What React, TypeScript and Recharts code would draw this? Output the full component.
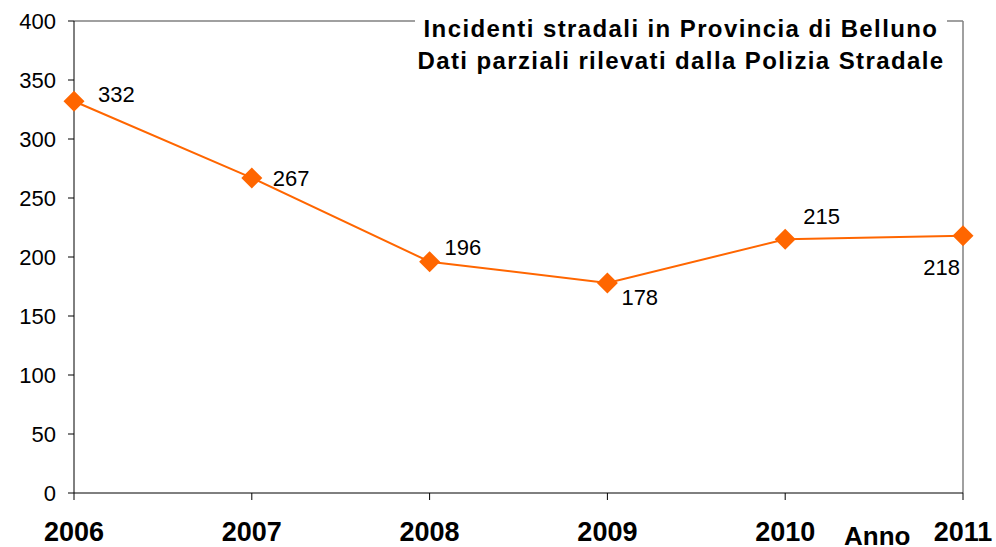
import React from 'react';
import { LabelList, Line, LineChart, ReferenceLine, XAxis, YAxis } from 'recharts';

const years = [2006, 2007, 2008, 2009, 2010, 2011];
const incidents = [332, 267, 196, 178, 215, 218];
const yTicks = [0, 50, 100, 150, 200, 250, 300, 350, 400];

const chartData = years.map((year, i) => ({ year, incidents: incidents[i] }));

// where each value label sits relative to its point
const labelPlacement = [
  { dx: 24, dy: 1, anchor: 'start' },
  { dx: 21, dy: 8, anchor: 'start' },
  { dx: 15, dy: -7, anchor: 'start' },
  { dx: 14, dy: 22, anchor: 'start' },
  { dx: 18, dy: -15, anchor: 'start' },
  { dx: -3, dy: 39, anchor: 'end' },
];

const FONT = '"Liberation Sans", Arial, sans-serif';
const ORANGE = '#FF6600';

function Diamond(props: any) {
  const { cx, cy } = props;
  const r = 10.5;
  return (
    <polygon
      points={`${cx},${cy - r} ${cx + r},${cy} ${cx},${cy + r} ${cx - r},${cy}`}
      fill={ORANGE}
    />
  );
}

function YearTick(props: any) {
  const { x, y, payload } = props;
  return (
    <text x={x} y={y} dy={39} textAnchor='middle' fontSize={27} fontWeight='bold' fill='#000' fontFamily={FONT}>
      {payload.value}
    </text>
  );
}

function ValueLabel(props: any) {
  const { x, y, value, index } = props;
  const p = labelPlacement[index];
  return (
    <text x={x + p.dx} y={y + p.dy} textAnchor={p.anchor} fontSize={22} fill='#000' fontFamily={FONT}>
      {value}
    </text>
  );
}

export default function App() {
  return (
    <div style={{ position: 'absolute', left: 0, top: 0, width: 996, height: 547, background: '#fff', overflow: 'hidden' }}>
      <LineChart width={996} height={547} data={chartData} margin={{ top: 21, right: 33, bottom: 0, left: 0 }}>
        <XAxis
          dataKey='year'
          type='number'
          domain={[2006, 2011]}
          ticks={years}
          interval={0}
          stroke='#000'
          tickSize={7}
          tickMargin={2}
          height={54}
          tick={<YearTick />}
        />
        <YAxis
          domain={[0, 400]}
          ticks={yTicks}
          interval={0}
          width={74}
          stroke='#000'
          tickSize={6}
          tickMargin={12}
          tick={{ fontSize: 22, fill: '#000', fontFamily: FONT }}
        />
        <ReferenceLine y={400} stroke='#808080' strokeWidth={1.5} />
        <ReferenceLine x={2011} stroke='#808080' strokeWidth={1.5} />
        <Line
          type='linear'
          dataKey='incidents'
          stroke={ORANGE}
          strokeWidth={2}
          dot={<Diamond />}
          activeDot={false}
          isAnimationActive={false}
        >
          <LabelList dataKey='incidents' content={<ValueLabel />} />
        </Line>
      </LineChart>
      <div
        style={{
          position: 'absolute',
          left: 415,
          top: 13,
          width: 532,
          background: '#fff',
          textAlign: 'center',
          fontFamily: FONT,
          fontWeight: 'bold',
          fontSize: 24,
          letterSpacing: 1.4,
          lineHeight: '32px',
          color: '#000',
        }}
      >
        <div>Incidenti stradali in Provincia di Belluno</div>
        <div>Dati parziali rilevati dalla Polizia Stradale</div>
      </div>
      <div
        style={{
          position: 'absolute',
          left: 844,
          top: 523,
          fontFamily: FONT,
          fontWeight: 'bold',
          fontSize: 26,
          lineHeight: '26px',
          color: '#000',
        }}
      >
        Anno
      </div>
    </div>
  );
}
